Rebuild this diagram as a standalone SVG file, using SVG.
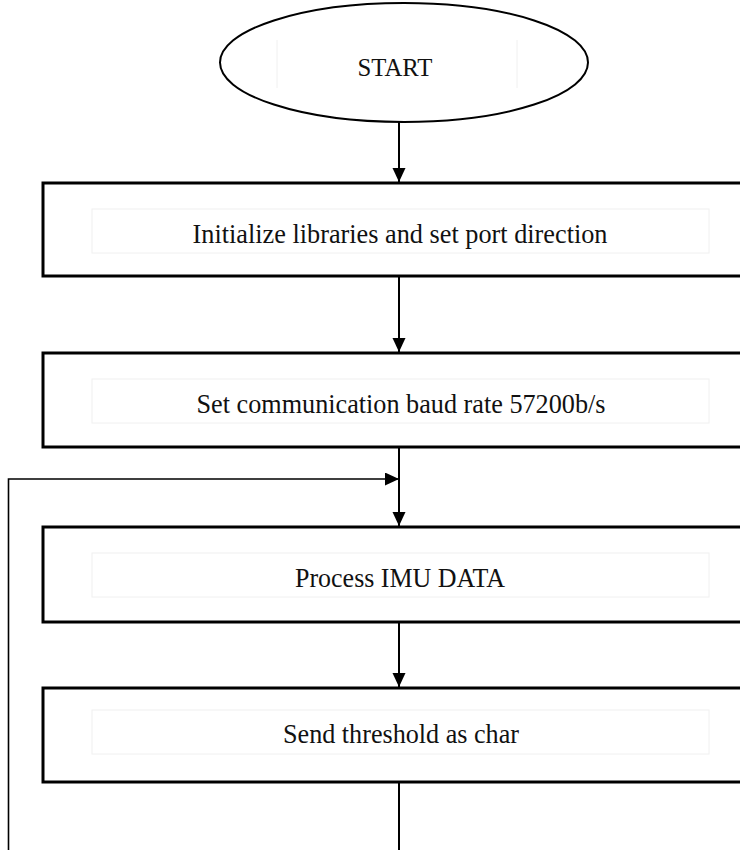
<svg xmlns="http://www.w3.org/2000/svg" width="740" height="850" viewBox="0 0 740 850">
  <style>
    .box { fill: #ffffff; stroke: #000000; stroke-width: 3; }
    .term { fill: #ffffff; stroke: #000000; stroke-width: 2; }
    .frame { fill: none; stroke: #f0f0f0; stroke-width: 1; }
    .label { font-family: "Liberation Serif", "Times New Roman", serif; font-size: 27px; fill: #111111; text-anchor: middle; }
    .start { font-family: "Liberation Serif", "Times New Roman", serif; font-size: 25px; fill: #111111; text-anchor: middle; }
    .conn { fill: none; stroke: #000000; stroke-width: 2; }
    .loop { fill: none; stroke: #000000; stroke-width: 1.6; }
  </style>
  <defs>
    <marker id="arrow" markerUnits="userSpaceOnUse" markerWidth="14" markerHeight="14" refX="14" refY="6.5" orient="auto">
      <path d="M0,0 L14,6.5 L0,13 Z" fill="#000000"/>
    </marker>
  </defs>
  <rect x="0" y="0" width="740" height="850" fill="#ffffff"/>

  <g id="connectors">
    <line class="conn" x1="399" y1="122" x2="399" y2="182" marker-end="url(#arrow)"/>
    <line class="conn" x1="399" y1="276" x2="399" y2="352" marker-end="url(#arrow)"/>
    <line class="conn" x1="399" y1="447" x2="399" y2="526" marker-end="url(#arrow)"/>
    <line class="conn" x1="399" y1="622" x2="399" y2="687" marker-end="url(#arrow)"/>
    <line class="conn" x1="399" y1="782" x2="399" y2="850"/>
    <polyline class="loop" points="8.5,850 8.5,479 399,479" marker-end="url(#arrow)"/>
  </g>

  <g id="start">
    <ellipse class="term" cx="404" cy="62.5" rx="184" ry="59.5"/>
    <line class="frame" x1="277" y1="40" x2="277" y2="88"/>
    <line class="frame" x1="517" y1="40" x2="517" y2="88"/>
    <text class="start" x="395" y="76" textLength="75" lengthAdjust="spacingAndGlyphs">START</text>
  </g>

  <g id="init">
    <rect class="box" x="43" y="183" width="720" height="93"/>
    <rect class="frame" x="92" y="209" width="617" height="44"/>
    <text class="label" x="400" y="243" textLength="415" lengthAdjust="spacingAndGlyphs">Initialize libraries and set port direction</text>
  </g>

  <g id="baud">
    <rect class="box" x="43" y="353" width="720" height="94"/>
    <rect class="frame" x="92" y="379" width="617" height="44"/>
    <text class="label" x="401" y="413" textLength="409" lengthAdjust="spacingAndGlyphs">Set communication baud rate 57200b/s</text>
  </g>

  <g id="process">
    <rect class="box" x="43" y="527" width="720" height="95"/>
    <rect class="frame" x="92" y="553" width="617" height="44"/>
    <text class="label" x="400" y="587" textLength="210" lengthAdjust="spacingAndGlyphs">Process IMU DATA</text>
  </g>

  <g id="send">
    <rect class="box" x="43" y="688" width="720" height="94"/>
    <rect class="frame" x="92" y="710" width="617" height="44"/>
    <text class="label" x="401" y="743" textLength="236" lengthAdjust="spacingAndGlyphs">Send threshold as char</text>
  </g>
</svg>
